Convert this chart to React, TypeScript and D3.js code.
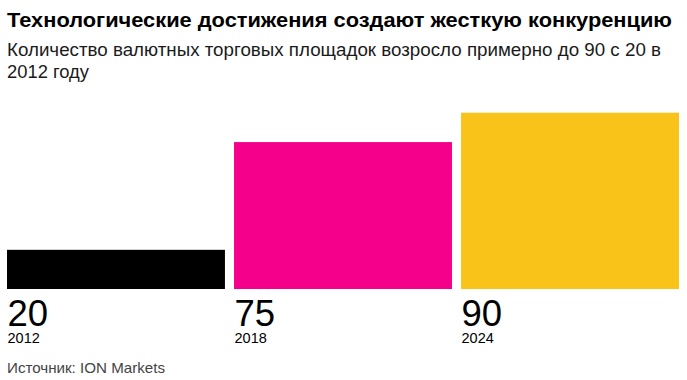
import React from "react";
import * as d3 from "d3";

const years = ["2012", "2018", "2024"];
const values = [20, 75, 90];
const colors = ["#000000", "#f5008b", "#f9c31a"];
const title = "Технологические достижения создают жесткую конкуренцию";
const subtitle1 = "Количество валютных торговых площадок возросло примерно до 90 с 20 в";
const subtitle2 = "2012 году";
const source = "Источник: ION Markets";

const W = 687;
const H = 380;
const font = "'Liberation Sans', Arial, Helvetica, sans-serif";

export default function App() {
  const x = d3.scaleBand<string>().domain(years).range([7, 679]).paddingInner(0.04).paddingOuter(0);
  const baseY = 289;
  const y = d3.scaleLinear().domain([0, 90]).range([baseY, 112.7]);
  return (
    <svg width={W} height={H} style={{ position: "absolute", left: 0, top: 0, background: "#fff" }} fontFamily={font}>
      <text x={7} y={27.3} fontSize={20.5} fontWeight="bold" fill="#000" textLength={665} lengthAdjust="spacingAndGlyphs">{title}</text>
      <text x={7} y={56} fontSize={17.5} fill="#1a1a1a" textLength={654} lengthAdjust="spacingAndGlyphs">{subtitle1}</text>
      <text x={7} y={77.7} fontSize={17.5} fill="#1a1a1a" textLength={82} lengthAdjust="spacingAndGlyphs">{subtitle2}</text>
      {years.map((yr, i) => (
        <g key={yr}>
          <rect x={x(yr)} y={y(values[i])} width={x.bandwidth()} height={baseY - y(values[i])} fill={colors[i]} />
          <text x={(x(yr) as number) + 0.5} y={326} fontSize={36.5} fill="#000">{values[i]}</text>
          <text x={(x(yr) as number) + 0.5} y={343.3} fontSize={14.5} fill="#000">{yr}</text>
        </g>
      ))}
      <text x={7} y={372.7} fontSize={14.5} fill="#444" textLength={158} lengthAdjust="spacingAndGlyphs">{source}</text>
    </svg>
  );
}
